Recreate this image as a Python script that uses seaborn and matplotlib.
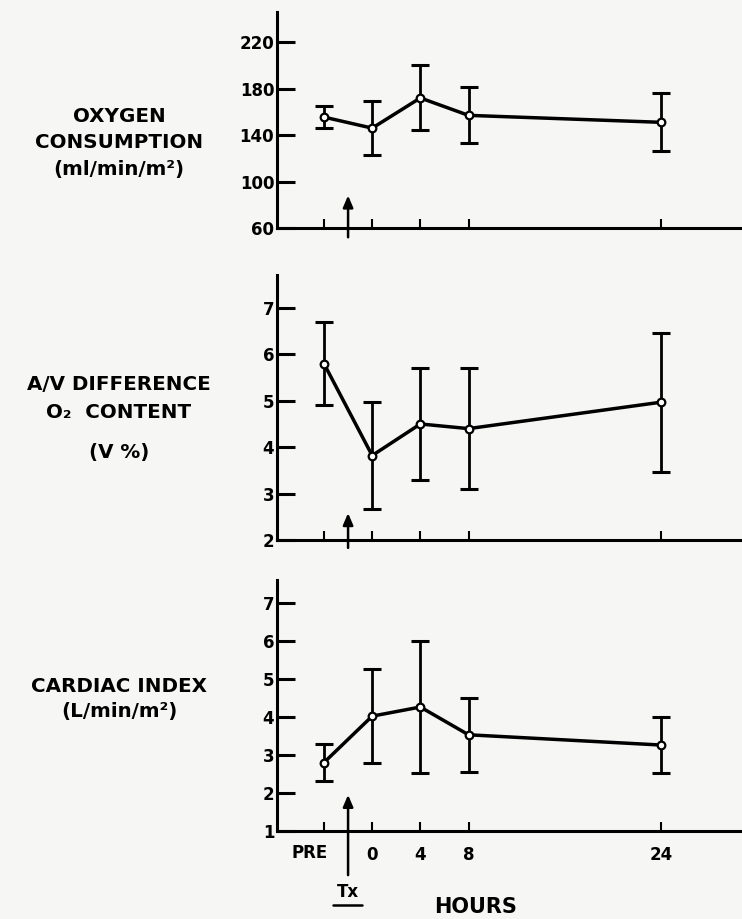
import matplotlib
matplotlib.use('Agg')
import matplotlib.pyplot as plt
from matplotlib.lines import Line2D
import seaborn as sns

# hours after treatment; PRE sits left of the treatment arrow
hour_labels = ['PRE', '0', '4', '8', '24']
hours = [-4, 0, 4, 8, 24]
tx_hour = -2

# oxygen consumption (ml/min/m2)
o2_mean = [155.5, 146, 172, 157, 151]
o2_err = [9.5, 23, 28, 24, 25]

# A/V difference O2 content (V%)
avd_mean = [5.8, 3.82, 4.5, 4.4, 4.97]
avd_err = [0.9, 1.16, 1.2, 1.3, 1.5]

# cardiac index (L/min/m2)
ci_mean = [2.8, 4.02, 4.26, 3.53, 3.26]
ci_err = [0.49, 1.23, 1.74, 0.98, 0.74]

sns.set_style('ticks')
plt.rcParams['font.family'] = ['DejaVu Sans']
plt.rcParams['font.weight'] = 'bold'
for key in ['text.color', 'axes.labelcolor', 'xtick.color', 'ytick.color',
            'axes.edgecolor']:
    plt.rcParams[key] = 'black'

BG = '#f6f6f4'
W, H = 742, 919
fig = plt.figure(figsize=(W / 100, H / 100), dpi=100, facecolor=BG)

def px_box(top, bottom, left=277):
    return [left / W, 1 - bottom / H, 1 - left / W, (bottom - top) / H]

panels = [
    dict(box=px_box(12, 228), mean=o2_mean, err=o2_err, ylim=(60, 246),
         yticks=[60, 100, 140, 180, 220], arrow=(52, 88),
         label=[('OXYGEN', 117), ('CONSUMPTION', 142), ('(ml/min/m²)', 170)]),
    dict(box=px_box(275, 540), mean=avd_mean, err=avd_err, ylim=(2, 7.71),
         yticks=[2, 3, 4, 5, 6, 7], arrow=(1.83, 2.58),
         label=[('A/V DIFFERENCE', 385), ('O₂  CONTENT', 412), ('(V %)', 453)]),
    dict(box=px_box(580, 831), mean=ci_mean, err=ci_err, ylim=(1, 7.6),
         yticks=[1, 2, 3, 4, 5, 6, 7], arrow=(-0.16, 1.95),
         label=[('CARDIAC INDEX', 687), ('(L/min/m²)', 712)]),
]

axes = []
for i, p in enumerate(panels):
    ax = fig.add_axes(p['box'])
    ax.set_facecolor(BG)
    ax.errorbar(hours, p['mean'], yerr=p['err'], fmt='none', ecolor='black',
                elinewidth=2.0, capsize=6.5, capthick=2.2, zorder=2)
    sns.lineplot(x=hours, y=p['mean'], ax=ax, color='black', lw=2.5,
                 marker='o', markersize=5.5, markerfacecolor='white',
                 markeredgecolor='black', markeredgewidth=1.6, zorder=3)
    ax.set_xlim(-7.9, 30.7)
    ax.set_ylim(*p['ylim'])
    ax.set_yticks(p['yticks'])
    ax.set_xticks(hours)
    ax.tick_params(axis='y', direction='in', length=13, width=2.2, pad=2,
                   labelsize=12, colors='black')
    ax.tick_params(axis='x', direction='in', length=6.5, width=1.5, pad=11,
                   labelsize=12, colors='black')
    sns.despine(ax=ax)
    for s in ['left', 'bottom']:
        ax.spines[s].set_linewidth(2.2)
        ax.spines[s].set_color('black')
    # treatment arrow
    y0, y1 = p['arrow']
    ax.annotate('', xy=(tx_hour, y1), xytext=(tx_hour, y0),
                arrowprops=dict(arrowstyle='-|>,head_length=0.7,head_width=0.3',
                                lw=1.8, color='black', shrinkA=0, shrinkB=0),
                annotation_clip=False)
    for txt, ypx in p['label']:
        fig.text(119 / W, 1 - ypx / H, txt, ha='center', va='center',
                 fontsize=14.3, fontweight='bold', color='black')
    axes.append(ax)

for ax in axes[:2]:
    ax.set_xticklabels([])
ax3 = axes[2]
ax3.set_xticklabels([''] + hour_labels[1:])
ax3.annotate(hour_labels[0], xy=(hours[0], 0), xycoords=('data', 'axes fraction'),
             xytext=(-10, -16), textcoords='offset points', ha='center',
             va='center', fontsize=12, fontweight='bold', color='black')
ax3.annotate('Tx', xy=(tx_hour, 0), xycoords=('data', 'axes fraction'),
             xytext=(0, -44), textcoords='offset points', ha='center',
             va='center', fontsize=12, fontweight='bold', color='black')
fig.add_artist(Line2D([333 / W, 362 / W], [1 - 905 / H] * 2,
                      transform=fig.transFigure, color='black', lw=1.8))
fig.text(476 / W, 1 - 907 / H, 'HOURS', ha='center', va='center',
         fontsize=15, fontweight='bold', color='black')

fig.savefig('out.png', dpi=100, facecolor=BG)
